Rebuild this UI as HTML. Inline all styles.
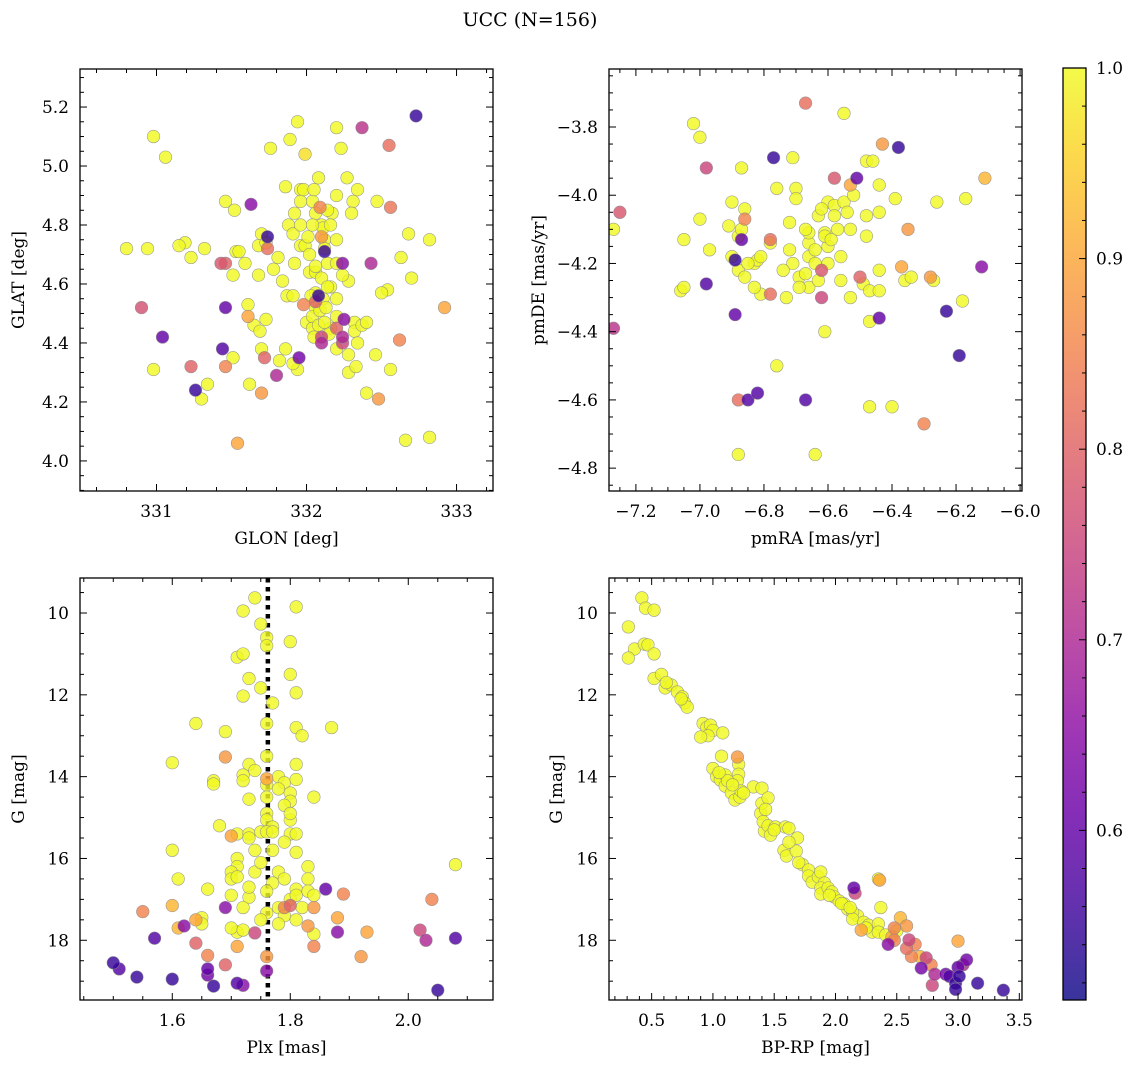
<!DOCTYPE html>
<html><head><meta charset="utf-8"><style>
html,body{margin:0;padding:0;background:#fff;}
svg{display:block;font-family:"DejaVu Serif","Liberation Serif",serif;}
</style></head><body>
<svg id="fig" width="1136" height="1068" viewBox="0 0 1136 1068" xmlns="http://www.w3.org/2000/svg">
<text x="530" y="26" font-size="19" text-anchor="middle">UCC (N=156)</text>
</svg>
<script>
// ---- data: [x, y, membership probability] ----
const tlPoints = [[330.98,5.10,1],[331.06,5.03,1],[330.80,4.72,1],[330.94,4.72,1],[330.90,4.52,.77],[331.04,4.42,.6],[330.98,4.31,1],[331.23,4.32,.8],[331.26,4.24,.55],[331.30,4.21,1],
[331.34,4.26,1],[331.19,4.74,1],[331.15,4.73,1],[331.23,4.69,1],[331.32,4.72,1],[331.43,4.67,.78],[331.46,4.67,.8],[331.46,4.88,1],[331.52,4.85,1],[331.53,4.71,1],
[331.51,4.63,1],[331.46,4.52,.6],[331.44,4.38,.58],[331.51,4.35,1],[331.46,4.32,.85],[331.54,4.06,.9],[331.62,4.26,1],[331.61,4.49,.9],[331.61,4.53,1],[331.59,4.67,1],
[331.55,4.71,1],[331.63,4.87,.65],[331.70,4.77,1],[331.68,4.73,1],[331.68,4.63,1],[331.65,4.46,1],[331.69,4.44,1],[331.70,4.23,.88],[331.72,4.35,.8],[331.70,4.38,1],
[331.74,4.76,.55],[331.74,4.72,.82],[331.73,4.48,1],[331.76,5.06,1],[331.78,4.65,1],[331.81,4.69,1],[331.73,4.74,1],[331.84,4.61,1],[331.82,4.34,1],[331.80,4.29,.7],
[331.86,4.38,1],[331.87,4.56,1],[331.91,4.56,1],[331.88,4.80,1],[331.92,4.84,1],[331.86,4.93,1],[331.89,5.09,1],[331.91,4.77,1],[331.96,4.92,1],[331.96,4.80,1],
[331.96,4.73,1],[331.99,4.73,1],[331.92,4.67,1],[332.02,4.70,1],[331.94,4.31,1],[331.91,4.33,1],[331.95,4.35,.62],[331.98,4.53,.85],[332.02,4.64,1],[332.00,4.47,1],
[332.04,4.45,1],[331.96,4.88,1],[331.94,5.15,1],[332.06,4.64,1],[332.06,4.57,1],[332.06,4.84,1],[332.01,4.76,1],[332.09,4.86,.85],[331.99,5.04,.97],[332.06,4.52,1],
[331.98,4.92,1],[332.12,4.71,.55],[332.10,4.80,1],[332.12,4.75,1],[332.11,4.79,1],[332.03,4.56,1],[332.04,4.49,1],[332.08,4.56,.55],[332.05,4.42,1],[332.06,4.54,.8],
[332.10,4.62,1],[332.14,4.67,1],[332.06,4.66,1],[332.11,4.55,1],[332.08,4.46,1],[332.09,4.51,1],[332.13,4.52,1],[332.16,4.45,1],[332.12,4.47,1],[332.10,4.42,.75],
[332.10,4.40,.7],[332.04,4.80,1],[332.10,4.76,.88],[332.12,4.72,1],[332.16,4.59,1],[332.14,4.59,1],[332.20,4.49,1],[332.20,4.55,1],[332.20,4.45,.8],[332.25,4.48,.65],
[332.24,4.40,.75],[332.20,4.38,1],[332.28,4.36,1],[332.15,4.43,1],[332.17,4.84,1],[332.16,4.80,1],[332.20,4.90,1],[332.08,4.96,1],[332.14,4.85,1],[332.27,4.96,1],
[332.23,5.06,1],[332.20,4.67,1],[332.28,4.61,1],[332.31,4.88,1],[332.30,4.84,1],[332.34,4.92,1],[332.20,5.13,1],[332.04,4.88,1],[332.05,4.92,1],[332.20,4.75,1],
[332.32,4.47,1],[332.28,4.30,1],[332.24,4.63,1],[332.33,4.32,1],[332.32,4.44,1],[332.37,4.46,1],[332.40,4.23,1],[332.40,4.47,1],[332.24,4.42,.7],[332.34,4.40,1],
[332.24,4.67,.65],[332.48,4.21,.88],[332.43,4.67,.7],[332.37,5.13,.72],[332.55,5.07,.82],[332.46,4.36,1],[332.47,4.88,1],[332.56,4.86,.83],[332.54,4.58,1],[332.56,4.31,1],
[332.50,4.57,1],[332.63,4.69,1],[332.68,4.77,1],[332.66,4.07,1],[332.73,5.17,.55],[332.82,4.75,1],[332.82,4.08,1],[332.62,4.41,.85],[332.92,4.52,.9],[332.70,4.62,1]];

const trPoints = [[-7.27,-4.10,1],[-7.25,-4.05,.78],[-7.27,-4.39,.72],[-7.02,-3.79,1],[-7.00,-3.83,1],[-6.98,-3.92,.75],[-7.00,-4.07,1],[-7.05,-4.13,1],[-6.97,-4.16,1],[-6.98,-4.26,.58],
[-7.06,-4.28,1],[-7.05,-4.27,1],[-6.90,-4.02,1],[-6.87,-3.92,1],[-6.91,-4.09,1],[-6.90,-4.18,1],[-6.89,-4.19,.55],[-6.88,-4.22,1],[-6.88,-4.12,1],[-6.87,-4.13,.6],
[-6.86,-4.07,.85],[-6.89,-4.35,.6],[-6.88,-4.60,.82],[-6.85,-4.60,.58],[-6.88,-4.76,1],[-6.82,-4.58,.58],[-6.86,-4.04,1],[-6.87,-4.10,1],[-6.86,-4.24,1],[-6.83,-4.20,1],
[-6.81,-4.29,1],[-6.83,-4.27,1],[-6.82,-4.19,1],[-6.81,-4.18,1],[-6.85,-4.20,1],[-6.77,-3.89,.55],[-6.76,-3.98,1],[-6.71,-3.89,1],[-6.78,-4.14,1],[-6.78,-4.13,.82],
[-6.78,-4.29,.82],[-6.76,-4.50,1],[-6.73,-4.30,1],[-6.72,-4.16,1],[-6.71,-4.20,1],[-6.72,-4.08,1],[-6.70,-3.98,1],[-6.70,-4.01,1],[-6.69,-4.24,1],[-6.67,-4.23,1],
[-6.66,-4.14,1],[-6.66,-4.11,1],[-6.66,-4.18,1],[-6.64,-4.16,1],[-6.64,-4.20,1],[-6.66,-4.27,1],[-6.67,-4.10,1],[-6.67,-3.73,.82],[-6.67,-4.60,.58],[-6.64,-4.76,1],
[-6.63,-4.06,1],[-6.63,-4.25,1],[-6.62,-4.22,.78],[-6.60,-4.15,1],[-6.61,-4.11,1],[-6.62,-4.30,.75],[-6.61,-4.40,1],[-6.60,-4.02,1],[-6.60,-4.20,1],[-6.58,-4.03,1],
[-6.58,-4.06,1],[-6.58,-3.95,.78],[-6.57,-4.10,1],[-6.55,-3.76,1],[-6.55,-4.02,1],[-6.54,-4.05,1],[-6.53,-4.10,1],[-6.56,-4.25,1],[-6.53,-3.97,.9],[-6.53,-4.30,1],
[-6.52,-4.00,1],[-6.51,-3.95,.6],[-6.50,-4.24,.8],[-6.49,-4.26,1],[-6.48,-3.90,1],[-6.48,-4.06,1],[-6.48,-4.12,1],[-6.47,-4.28,1],[-6.47,-4.37,1],[-6.47,-4.62,1],
[-6.46,-3.90,1],[-6.44,-4.36,.6],[-6.44,-4.05,1],[-6.44,-4.28,1],[-6.44,-4.22,1],[-6.43,-3.85,.88],[-6.44,-3.97,1],[-6.40,-4.62,1],[-6.39,-4.01,1],[-6.38,-3.86,.55],
[-6.36,-4.25,1],[-6.37,-4.21,.9],[-6.35,-4.10,.88],[-6.34,-4.24,1],[-6.30,-4.67,.85],[-6.28,-4.24,.88],[-6.27,-4.25,1],[-6.26,-4.02,1],[-6.23,-4.34,.55],[-6.19,-4.47,.55],
[-6.18,-4.31,1],[-6.17,-4.01,1],[-6.12,-4.21,.65],[-6.11,-3.95,.92],[-6.61,-4.12,1],[-6.56,-4.18,1],[-6.74,-4.22,1],[-6.62,-4.04,1],[-6.59,-4.13,1],[-6.69,-4.27,1]];

const blPoints = [[1.74,9.63,1],[1.72,9.95,1],[1.81,9.85,1],[1.75,10.27,1],[1.76,10.6,1],[1.76,10.8,1],[1.80,10.7,1],[1.71,11.08,1],[1.72,11.0,1],[1.80,11.5,1],
[1.73,11.6,1],[1.75,11.83,1],[1.72,12.03,1],[1.77,12.2,1],[1.81,11.95,1],[1.64,12.7,1],[1.76,12.7,1],[1.81,12.8,1],[1.87,12.8,1],[1.69,12.9,1],
[1.82,13.0,1],[1.76,13.5,1],[1.69,13.52,.88],[1.73,13.7,1],[1.60,13.66,1],[1.74,13.85,1],[1.81,13.7,1],[1.67,14.1,1],[1.67,14.18,1],[1.72,13.96,1],
[1.72,14.1,1],[1.76,14.05,.9],[1.76,14.2,1],[1.78,14.0,1],[1.79,14.15,1],[1.80,14.4,1],[1.80,14.6,1],[1.81,14.07,1],[1.84,14.5,1],[1.73,14.55,1],
[1.76,14.5,1],[1.79,14.7,1],[1.76,14.9,1],[1.76,15.06,1],[1.77,15.23,1],[1.68,15.2,1],[1.71,15.4,1],[1.73,15.4,1],[1.70,15.45,.9],[1.73,15.5,1],
[1.75,15.35,1],[1.76,15.35,1],[1.77,15.35,1],[1.80,15.4,1],[1.81,15.4,1],[1.80,15.06,1],[1.74,15.8,1],[1.77,15.8,1],[1.81,15.85,1],[1.71,16.0,1],
[1.71,16.2,1],[1.83,16.2,1],[1.60,15.8,1],[1.70,16.33,1],[1.74,16.33,1],[1.78,16.33,1],[1.70,16.5,1],[1.71,16.45,1],[1.61,16.5,1],[1.77,16.6,1],
[1.76,16.8,1],[1.79,16.5,1],[1.83,16.5,1],[1.81,16.75,1],[1.83,16.8,1],[1.86,16.75,.6],[1.66,16.75,1],[1.65,17.45,1],[1.70,16.9,1],[1.73,16.95,1],
[1.80,17.0,1],[1.81,16.9,1],[1.84,16.9,1],[1.89,16.87,.85],[1.69,17.2,.65],[1.72,17.2,1],[1.76,17.33,1],[1.78,17.2,1],[1.79,17.2,.85],[1.80,17.15,.8],
[1.82,17.2,1],[1.84,17.2,.88],[1.79,17.4,1],[1.75,17.5,1],[1.81,17.5,1],[1.55,17.3,.85],[1.60,17.15,.92],[1.88,17.45,.9],[2.04,17.0,.85],[2.08,16.15,1],
[1.64,17.5,.9],[1.65,17.6,1],[1.61,17.7,.92],[1.62,17.65,.65],[1.57,17.95,.58],[1.71,17.8,1],[1.70,17.7,1],[1.72,17.75,1],[1.74,17.82,.75],[1.83,17.65,.88],
[1.84,17.85,1],[1.88,17.8,.65],[1.93,17.8,.9],[2.02,17.75,.75],[2.03,18.0,.7],[2.08,17.95,.58],[1.71,18.15,.9],[1.64,18.07,.8],[1.66,18.37,.85],[1.76,18.4,.88],
[1.84,18.15,.85],[1.92,18.4,.88],[1.66,18.7,.6],[1.66,18.85,.62],[1.69,18.6,.8],[1.76,18.75,.65],[1.50,18.55,.55],[1.51,18.7,.58],[1.54,18.9,.55],[1.60,18.95,.55],
[1.67,19.12,.55],[1.71,19.05,.58],[1.72,19.1,.65],[2.05,19.22,.55],[1.78,14.3,1],[1.75,16.1,1],[1.79,15.6,1],[1.73,16.7,1],[1.78,17.6,1],[1.80,14.9,1]];

const brPoints = [[0.42,9.63,1],[0.45,9.88,1],[0.52,9.93,1],[0.31,10.34,1],[0.36,10.88,1],[0.31,11.1,1],[0.44,10.76,1],[0.47,10.78,1],[0.52,11.0,1],[0.52,11.6,1],
[0.58,11.5,1],[0.61,11.83,1],[0.66,11.76,1],[0.71,11.93,1],[0.75,12.05,1],[0.77,12.2,1],[0.79,12.3,1],[0.92,12.7,1],[0.95,12.8,1],[0.98,12.74,1],
[1.00,12.87,1],[0.96,13.0,1],[1.08,12.93,1],[0.90,13.03,1],[1.07,13.5,1],[1.20,13.52,.88],[1.00,13.8,1],[1.03,14.0,1],[1.06,14.08,1],[1.10,13.96,1],
[1.10,14.23,1],[1.21,13.7,1],[1.21,13.94,1],[1.15,14.4,1],[1.18,14.57,1],[1.22,14.5,1],[1.20,14.1,1],[1.23,14.35,1],[1.33,14.25,1],[1.39,14.9,1],
[1.40,14.65,1],[1.40,14.28,1],[1.45,14.52,1],[1.42,15.33,1],[1.41,15.1,1],[1.45,15.2,1],[1.51,15.23,1],[1.47,15.43,1],[1.59,15.23,1],[1.62,15.26,1],
[1.58,15.8,1],[1.60,15.94,1],[1.69,15.5,1],[1.68,15.82,1],[1.73,16.15,1],[1.78,16.28,1],[1.78,16.43,1],[1.81,16.58,1],[1.86,16.45,1],[1.88,16.33,1],
[1.91,16.6,1],[1.88,16.72,1],[1.88,16.87,1],[1.94,16.72,1],[1.97,16.82,1],[1.99,16.94,1],[2.03,17.04,1],[2.07,17.11,1],[2.10,17.24,1],[2.15,16.72,.6],
[2.16,16.85,.75],[2.18,17.4,1],[2.14,17.31,1],[2.14,17.48,1],[2.23,17.56,1],[2.21,17.75,.9],[2.27,17.63,1],[2.30,17.8,1],[2.35,17.6,1],[2.35,17.8,1],
[2.37,17.2,1],[2.36,16.53,.9],[2.35,16.5,1],[2.41,17.87,1],[2.43,18.1,.65],[2.46,17.92,.9],[2.48,18.0,.85],[2.48,17.7,.85],[2.50,17.77,1],[2.53,17.45,.92],
[2.58,18.2,.82],[2.58,17.65,.88],[2.60,17.99,.75],[2.65,18.1,.85],[2.69,18.4,.92],[2.74,18.43,.75],[2.62,18.4,.85],[2.70,18.68,.62],[2.78,18.6,.85],[2.81,18.83,.7],
[2.79,19.1,.75],[2.90,18.83,.62],[2.93,18.88,.58],[2.98,19.05,.55],[3.00,18.02,.9],[3.00,18.66,.6],[3.04,18.6,.7],[3.07,18.48,.62],[3.01,18.88,.55],[2.98,19.2,.55],
[3.16,19.05,.55],[3.37,19.22,.55],[1.12,14.1,1],[1.16,14.2,1],[1.05,13.9,1],[1.25,14.4,1],[1.50,15.3,1],[1.62,15.6,1],[1.95,16.9,1],[2.05,17.1,1],
[2.25,17.7,1],[2.12,17.2,1],[0.62,11.7,1],[0.74,12.1,1],[1.43,14.8,1],[1.70,16.1,1]];

const plxLine = 1.762;
const pmin = 0.511, pmax = 1.0;
const cbTicks = [0.6, 0.7, 0.8, 0.9, 1.0];

const plasma = ["#0d0887","#41049d","#6a00a8","#8f0da4","#b12a90","#cc4778","#e16462","#f2844b","#fca636","#fcce25","#f0f921"];
function hex2rgb(h){return [parseInt(h.slice(1,3),16),parseInt(h.slice(3,5),16),parseInt(h.slice(5,7),16)];}
function cmap(p){
  let t=(p-pmin)/(pmax-pmin); t=Math.max(0,Math.min(1,t));
  const s=t*10, i=Math.min(9,Math.floor(s)), f=s-i;
  const a=hex2rgb(plasma[i]), b=hex2rgb(plasma[i+1]);
  return "rgb("+a.map((v,k)=>Math.round(v+(b[k]-v)*f)).join(",")+")";
}
const NS="http://www.w3.org/2000/svg";
const svg=document.getElementById("fig");
const FS=17;
function mk(tag,attrs,parent){const e=document.createElementNS(NS,tag);for(const k in attrs)e.setAttribute(k,attrs[k]);(parent||svg).appendChild(e);return e;}
function fmt(v,d){const s=v.toFixed(d);return s.replace("-","\u2212");}

function panel(cfg){
  const g=mk("g",{});
  
  
  const X=v=>cfg.x0+(v-cfg.xmin)/(cfg.xmax-cfg.xmin)*cfg.w;
  const Y=v=>cfg.y0+(v-cfg.ytop)/(cfg.ybot-cfg.ytop)*cfg.h;
  const clip="clip-"+cfg.name;
  const cp=mk("clipPath",{id:clip},g);mk("rect",{x:cfg.x0,y:cfg.y0,width:cfg.w,height:cfg.h},cp);
  const pts=mk("g",{"clip-path":"url(#"+clip+")"},g);
  
  
  if(cfg.vline!==undefined){
    const l=mk("line",{x1:X(cfg.vline),x2:X(cfg.vline),y1:cfg.y0,y2:cfg.y0+cfg.h,stroke:"#000","stroke-width":4.5,"stroke-dasharray":"4.5,4.5"},pts);
    
    
  }
  const sorted=cfg.data.slice().sort((a,b)=>b[2]-a[2]);
  sorted.forEach(d=>{
    const c=mk("circle",{cx:X(d[0]),cy:Y(d[1]),r:6.3,fill:cmap(d[2]),"fill-opacity":0.82,stroke:"#888","stroke-width":0.6,"stroke-opacity":0.8},pts);
    
    
  });
  mk("rect",{x:cfg.x0,y:cfg.y0,width:cfg.w,height:cfg.h,fill:"none",stroke:"#000","stroke-width":1.3},g);
  const eps=1e-9;
  for(let v=Math.ceil(cfg.xmin/cfg.xminor-eps)*cfg.xminor; v<=cfg.xmax+eps; v+=cfg.xminor){
    const x=X(v); const isMaj=Math.abs(v/cfg.xmajor-Math.round(v/cfg.xmajor))<1e-6; const L=isMaj?7:4;
    mk("line",{x1:x,x2:x,y1:cfg.y0+cfg.h,y2:cfg.y0+cfg.h-L,stroke:"#000","stroke-width":1},g);
    mk("line",{x1:x,x2:x,y1:cfg.y0,y2:cfg.y0+L,stroke:"#000","stroke-width":1},g);
    if(isMaj){const t=mk("text",{x:x,y:cfg.y0+cfg.h+26,"font-size":FS,"text-anchor":"middle"},g);t.textContent=fmt(v,cfg.xdec);
      
      }
  }
  const lo=Math.min(cfg.ytop,cfg.ybot), hi=Math.max(cfg.ytop,cfg.ybot);
  for(let v=Math.ceil(lo/cfg.yminor-eps)*cfg.yminor; v<=hi+eps; v+=cfg.yminor){
    const y=Y(v); const isMaj=Math.abs(v/cfg.ymajor-Math.round(v/cfg.ymajor))<1e-6; const L=isMaj?7:4;
    mk("line",{x1:cfg.x0,x2:cfg.x0+L,y1:y,y2:y,stroke:"#000","stroke-width":1},g);
    mk("line",{x1:cfg.x0+cfg.w,x2:cfg.x0+cfg.w-L,y1:y,y2:y,stroke:"#000","stroke-width":1},g);
    if(isMaj){const t=mk("text",{x:cfg.x0-11,y:y+6,"font-size":FS,"text-anchor":"end"},g);t.textContent=fmt(v,cfg.ydec);
      
      }
  }
  const xl=mk("text",{x:cfg.x0+cfg.w/2,y:cfg.y0+cfg.h+53,"font-size":FS,"text-anchor":"middle"},g);xl.textContent=cfg.xlabel;
  
  
  const yc=cfg.y0+cfg.h/2, yx=cfg.ylx;
  const yl=mk("text",{x:yx,y:yc,"font-size":FS,"text-anchor":"middle",transform:"rotate(-90 "+yx+" "+yc+")"},g);yl.textContent=cfg.ylabel;
  
  
}

panel({name:"glon-glat-panel",x0:80,y0:69,w:413,h:422,xmin:330.49,xmax:333.243,ytop:5.329,ybot:3.898,xmajor:1,xminor:0.2,ymajor:0.2,yminor:0.05,xdec:0,ydec:1,data:tlPoints,xlabel:"GLON [deg]",ylabel:"GLAT [deg]",ylx:24});
panel({name:"pm-panel",x0:609,y0:69,w:413,h:422,xmin:-7.284,xmax:-5.994,ytop:-3.63,ybot:-4.867,xmajor:0.2,xminor:0.05,ymajor:0.2,yminor:0.05,xdec:1,ydec:1,data:trPoints,xlabel:"pmRA [mas/yr]",ylabel:"pmDE [mas/yr]",ylx:544});
panel({name:"plx-g-panel",x0:80,y0:578,w:413,h:422,xmin:1.4436,xmax:2.1436,ytop:9.144,ybot:19.46,xmajor:0.2,xminor:0.05,ymajor:2,yminor:0.5,xdec:1,ydec:0,data:blPoints,xlabel:"Plx [mas]",ylabel:"G [mag]",ylx:24,vline:plxLine});
panel({name:"cmd-panel",x0:609,y0:578,w:413,h:422,xmin:0.152,xmax:3.522,ytop:9.144,ybot:19.46,xmajor:0.5,xminor:0.1,ymajor:2,yminor:0.5,xdec:1,ydec:0,data:brPoints,xlabel:"BP-RP [mag]",ylabel:"G [mag]",ylx:562});

// colorbar
(function(){
  const x0=1063,y0=68,w=23,h=932;
  const g=mk("g",{});
  
  
  const defs=mk("defs",{},g);
  const lg=mk("linearGradient",{id:"cbgrad",x1:0,y1:1,x2:0,y2:0},defs);
  for(let i=0;i<=20;i++){const p=pmin+(pmax-pmin)*i/20;mk("stop",{offset:(i/20),"stop-color":cmap(p),"stop-opacity":0.82},lg);}
  mk("rect",{x:x0,y:y0,width:w,height:h,fill:"url(#cbgrad)"},g);
  mk("rect",{x:x0,y:y0,width:w,height:h,fill:"none",stroke:"#000","stroke-width":1.3},g);
  const Y=v=>y0+(pmax-v)/(pmax-pmin)*h;
  for(let v=0.52; v<=1.0001; v+=0.02){
    const y=Y(v);const isMaj=Math.abs(v*10-Math.round(v*10))<1e-6;const L=isMaj?7:4;
    mk("line",{x1:x0+w,x2:x0+w-L,y1:y,y2:y,stroke:"#000","stroke-width":1},g);
  }
  cbTicks.forEach(v=>{
    const t=mk("text",{x:x0+w+10,y:Y(v)+6,"font-size":FS},g);t.textContent=v.toFixed(1);
    
    
  });
})();
</script>
</body></html>
